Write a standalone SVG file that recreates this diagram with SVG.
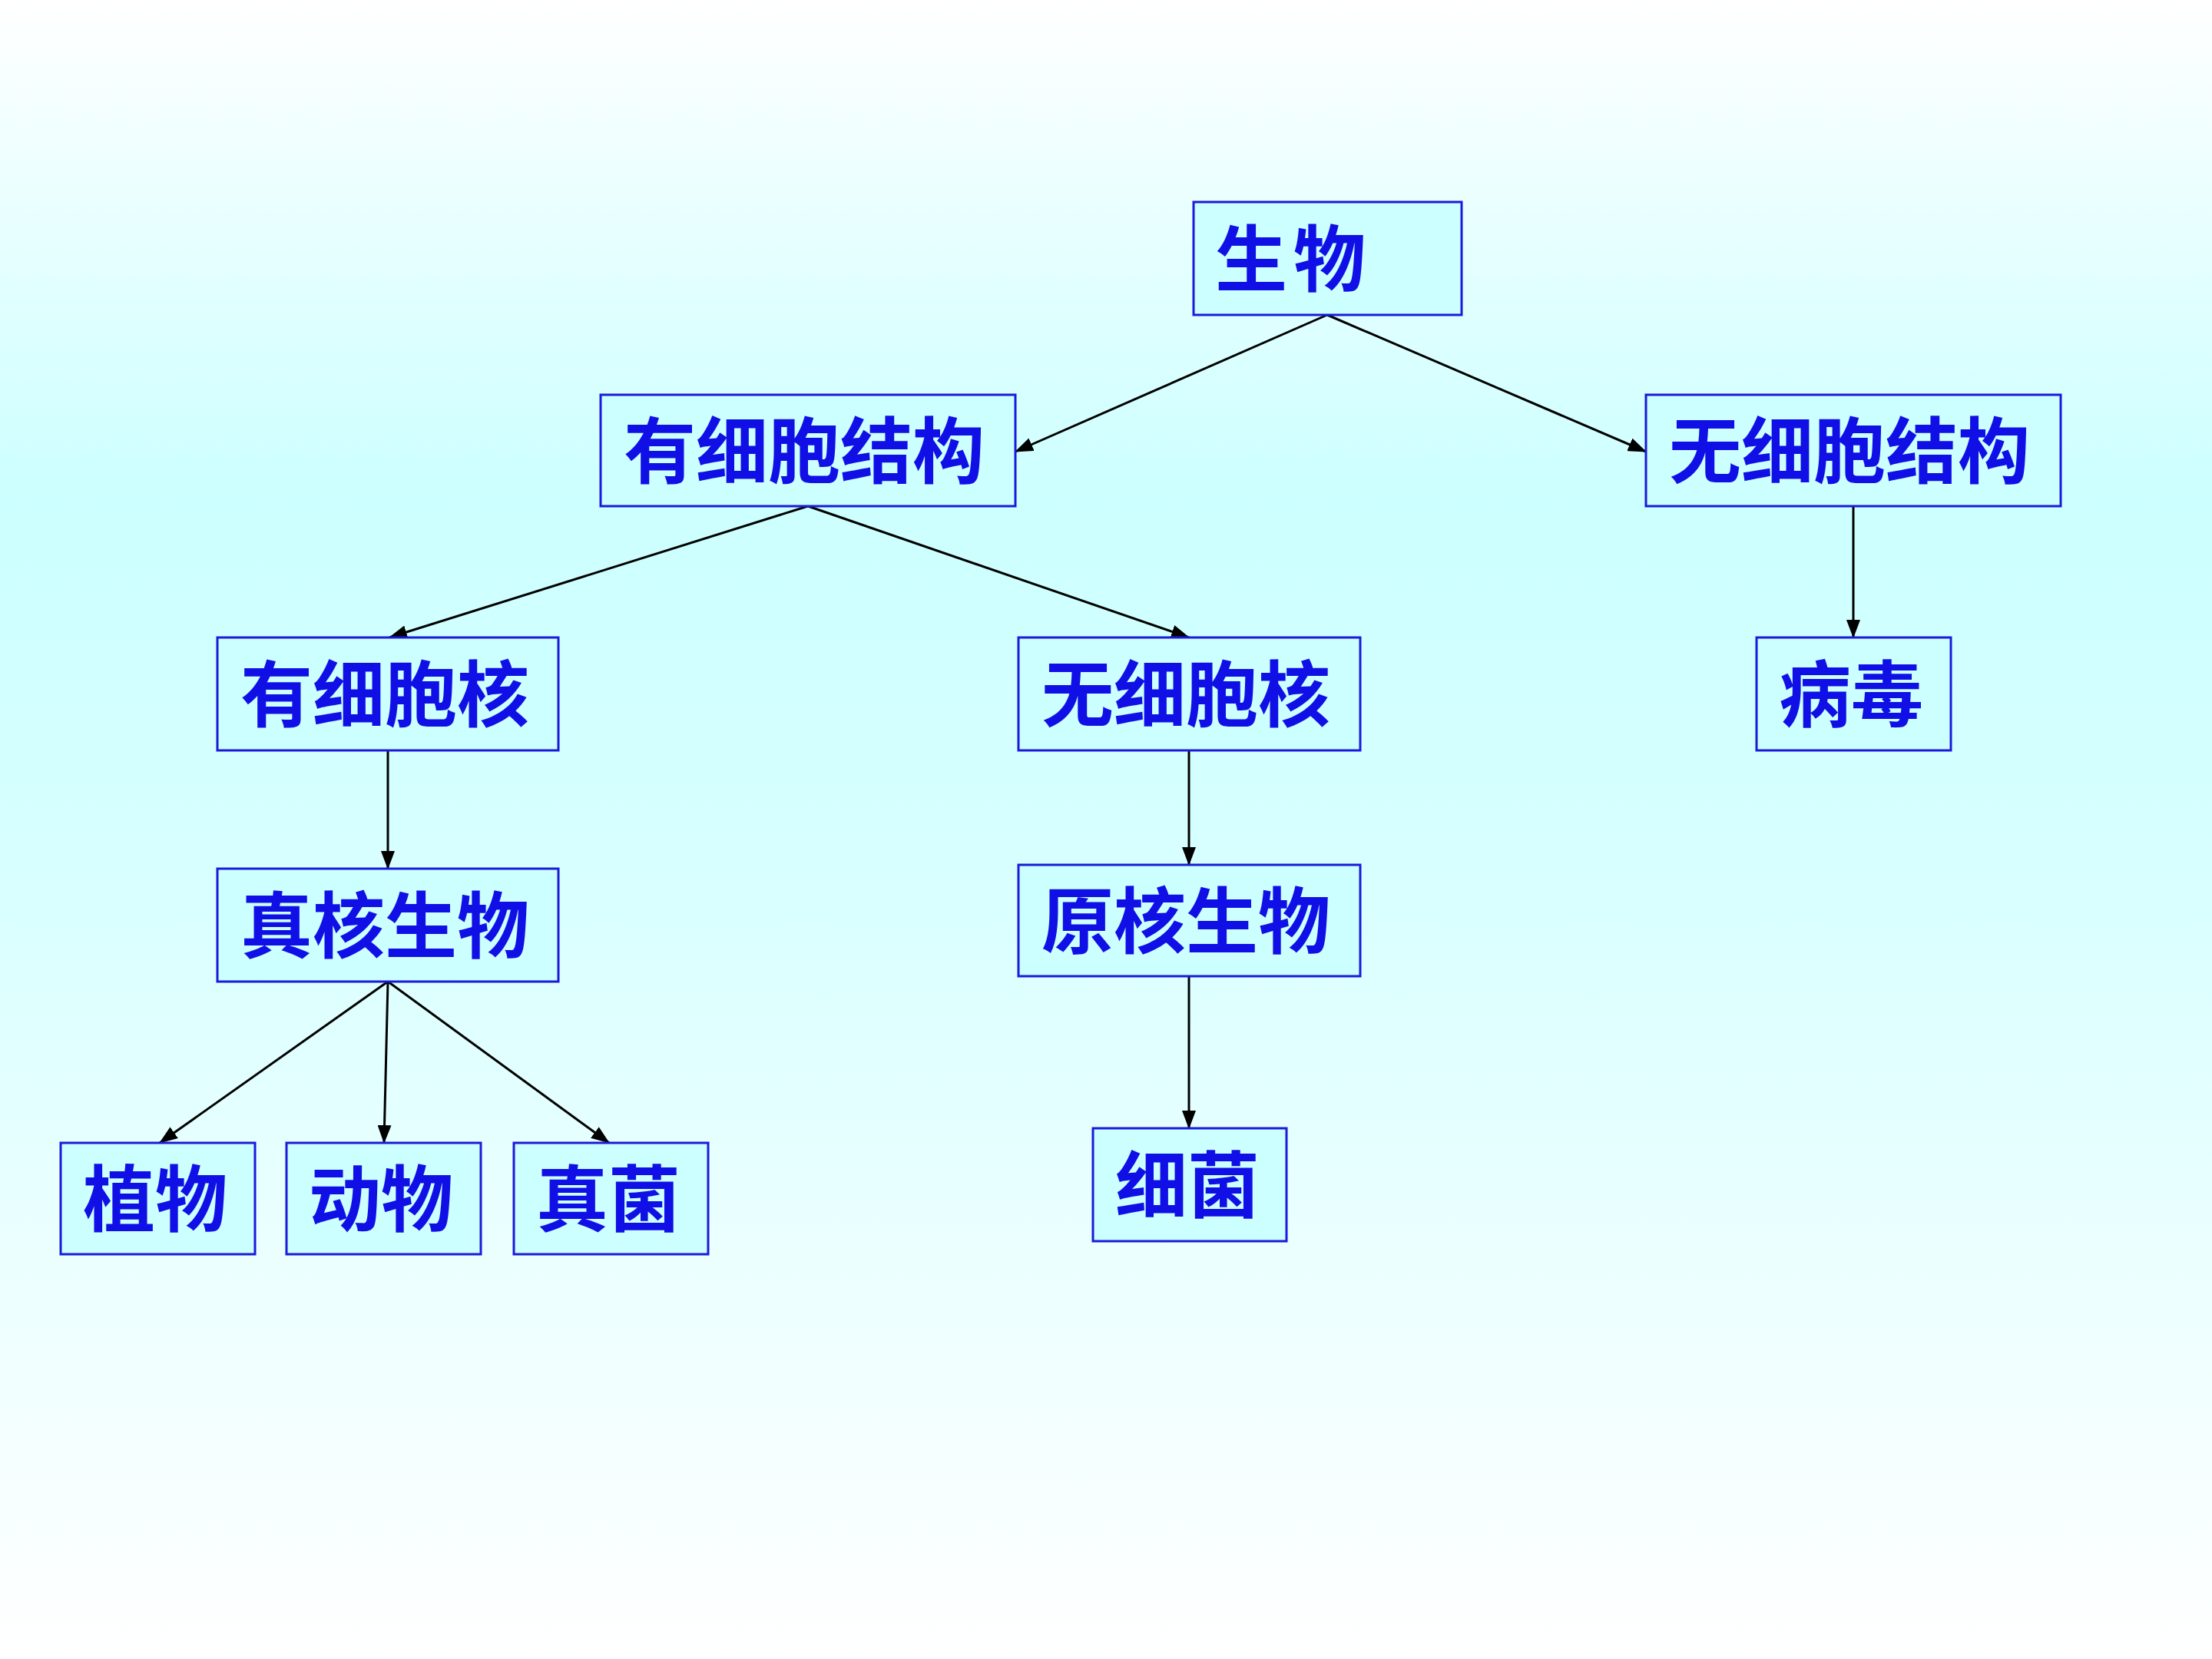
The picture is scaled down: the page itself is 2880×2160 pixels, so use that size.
<svg xmlns="http://www.w3.org/2000/svg" width="2880" height="2160" viewBox="0 0 2880 2160">
<defs>
<linearGradient id="bg" x1="0" y1="0" x2="0" y2="1">
<stop offset="0" stop-color="#ffffff"/>
<stop offset="0.3" stop-color="#ccffff"/>
<stop offset="0.5" stop-color="#d6ffff"/>
<stop offset="1" stop-color="#ffffff"/>
</linearGradient>
<marker id="ah" markerWidth="24" markerHeight="18" refX="23" refY="9" orient="auto" markerUnits="userSpaceOnUse" viewBox="0 0 24 18">
<path d="M0,0 L24,9 L0,18 z" fill="#000"/>
</marker>
<style>
.box{fill:#ccffff;stroke:#1a1adc;stroke-width:3}
.t{font-family:"Noto Sans CJK SC","Noto Sans CJK TC",sans-serif;font-weight:bold;font-size:94px;fill:#1010e6}
.c line{stroke:#000;stroke-width:3;marker-end:url(#ah)}
</style>
</defs>
<rect width="2880" height="2160" fill="url(#bg)"/>
<g class="c" id="connectors">
<line x1="1728" y1="410" x2="1322" y2="588"/>
<line x1="1728" y1="410" x2="2143" y2="588"/>
<line x1="1052" y1="659" x2="507" y2="830"/>
<line x1="1052" y1="659" x2="1548" y2="830"/>
<line x1="2413" y1="659" x2="2413" y2="830"/>
<line x1="505" y1="977" x2="505" y2="1131"/>
<line x1="1548" y1="977" x2="1548" y2="1126"/>
<line x1="505" y1="1278" x2="208" y2="1488"/>
<line x1="505" y1="1278" x2="500" y2="1488"/>
<line x1="505" y1="1278" x2="793" y2="1488"/>
<line x1="1548" y1="1271" x2="1548" y2="1469"/>
</g>
<g id="n1"><rect class="box" x="1554" y="263" width="349" height="147"/><text class="t" x="1582" y="372" letter-spacing="8">生物</text></g>
<g id="n2"><rect class="box" x="782" y="514" width="540" height="145"/><text class="t" x="812" y="622">有细胞结构</text></g>
<g id="n3"><rect class="box" x="2143" y="514" width="540" height="145"/><text class="t" x="2173" y="622">无细胞结构</text></g>
<g id="n4"><rect class="box" x="283" y="830" width="444" height="147"/><text class="t" x="313" y="939">有细胞核</text></g>
<g id="n5"><rect class="box" x="1326" y="830" width="445" height="147"/><text class="t" x="1356" y="939">无细胞核</text></g>
<g id="n6"><rect class="box" x="2287" y="830" width="253" height="147"/><text class="t" x="2316" y="939">病毒</text></g>
<g id="n7"><rect class="box" x="283" y="1131" width="444" height="147"/><text class="t" x="313" y="1240">真核生物</text></g>
<g id="n8"><rect class="box" x="1326" y="1126" width="445" height="145"/><text class="t" x="1356" y="1234">原核生物</text></g>
<g id="n9"><rect class="box" x="79" y="1488" width="253" height="145"/><text class="t" x="108" y="1596">植物</text></g>
<g id="n10"><rect class="box" x="373" y="1488" width="253" height="145"/><text class="t" x="402" y="1596">动物</text></g>
<g id="n11"><rect class="box" x="669" y="1488" width="253" height="145"/><text class="t" x="698" y="1596">真菌</text></g>
<g id="n12"><rect class="box" x="1423" y="1469" width="252" height="147"/><text class="t" x="1452" y="1578">细菌</text></g>
</svg>
